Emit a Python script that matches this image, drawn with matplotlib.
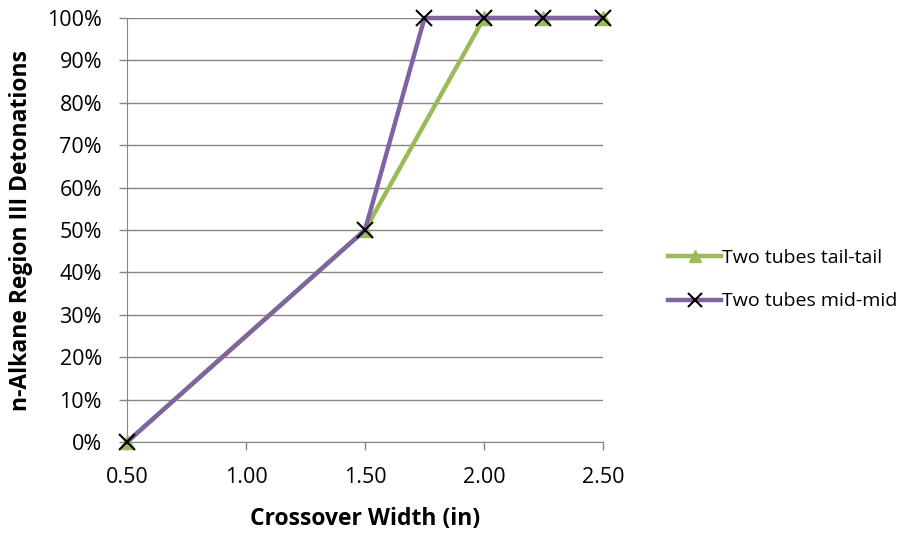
import matplotlib.pyplot as plt
from matplotlib.ticker import PercentFormatter, FormatStrFormatter

# --- Data ---
x_tail = [0.50, 1.50, 2.00, 2.25, 2.50]
y_tail = [0, 50, 100, 100, 100]
x_mid = [0.50, 1.50, 1.75, 2.00, 2.25, 2.50]
y_mid = [0, 50, 100, 100, 100, 100]
labels = ["Two tubes tail-tail", "Two tubes mid-mid"]

GREEN = "#9BBB59"
PURPLE = "#8064A2"
GRID = "#868686"

plt.rcParams["font.family"] = ["Open Sans", "DejaVu Sans"]

fig = plt.figure(figsize=(9.04, 5.33), dpi=100)
ax = fig.add_axes([0.1405, 0.1707, 0.5265, 0.7955])

ax.plot(x_tail, y_tail, color=GREEN, lw=3.2, marker="^", ms=10,
        mfc=GREEN, mec=GREEN, label=labels[0], clip_on=False, zorder=3)
ax.plot(x_mid, y_mid, color=PURPLE, lw=3.2, marker="x", ms=12, mew=1.5,
        mec="black", label=labels[1], clip_on=False, zorder=4)

ax.set_xlim(0.5, 2.5)
ax.set_ylim(0, 100)
ax.set_xticks([0.5, 1.0, 1.5, 2.0, 2.5])
ax.set_yticks(range(0, 101, 10))
ax.xaxis.set_major_formatter(FormatStrFormatter("%.2f"))
ax.yaxis.set_major_formatter(PercentFormatter(decimals=0))
ax.grid(axis="y", color=GRID, lw=1)
ax.set_axisbelow(True)

for s in ["top", "right"]:
    ax.spines[s].set_visible(False)
for s in ["left", "bottom"]:
    ax.spines[s].set_color(GRID)
ax.tick_params(axis="both", colors=GRID, length=6, width=1, labelsize=15.5,
               labelcolor="black")
ax.tick_params(axis="x", pad=12)
ax.tick_params(axis="y", pad=12)

ax.set_xlabel("Crossover Width (in)", fontsize=16.5, fontweight="bold", labelpad=14)
ax.set_ylabel("n-Alkane Region III Detonations", fontsize=16.5, fontweight="bold",
              labelpad=10)

fig.legend(loc="center left", bbox_to_anchor=(0.72, 0.475), frameon=False,
           fontsize=14, handlelength=2.7, handletextpad=0.05, labelspacing=1.3,
           markerscale=0.8)

fig.savefig("out.png", dpi=100)
